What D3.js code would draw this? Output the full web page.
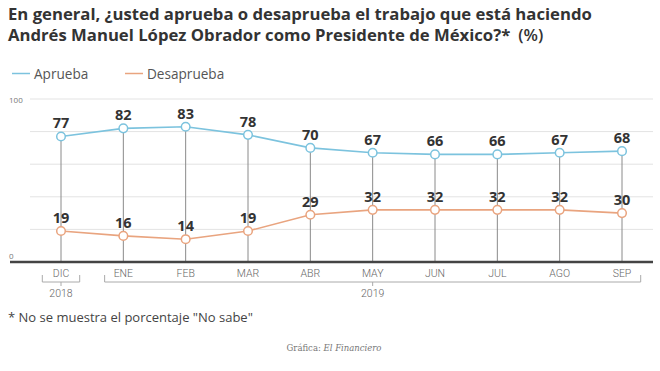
<!DOCTYPE html>
<html>
<head>
<meta charset="utf-8">
<script src="https://cdn.jsdelivr.net/npm/d3@7"></script>
<style>
  html, body { margin: 0; padding: 0; background: #fff; }
  svg { display: block; }
</style>
</head>
<body>
<div id="chart"></div>
<script>
/* Aprobación AMLO — D3 v7 */

var months     = ["DIC", "ENE", "FEB", "MAR", "ABR", "MAY", "JUN", "JUL", "AGO", "SEP"];
var aprueba    = [77, 82, 83, 78, 70, 67, 66, 66, 67, 68];
var desaprueba = [19, 16, 14, 19, 29, 32, 32, 32, 32, 30];
var yTicks     = [0, 100];
var gridTicks  = [20, 40, 60, 80, 100];
var years      = [
  { label: "2018", from: "DIC", to: "DIC", mid: "DIC" },
  { label: "2019", from: "ENE", to: "SEP", mid: "MAY" }
];

(function () {
  "use strict";

  var W = 660, H = 371;
  var cBlue = "#7cc3de", cOrange = "#e9a47f";
  var sans  = "'Open Sans', sans-serif";

  var svg = d3.select("#chart").append("svg").attr("width", W).attr("height", H);

  // ── Title ─────────────────────────────────────────────────────────────────
  var title = svg.append("text").attr("x", 8).attr("fill", "#333")
    .style("font-family", sans).style("font-size", "16.7px").style("font-weight", 700);
  title.append("tspan").attr("x", 8).attr("y", 20)
    .text("En general, ¿usted aprueba o desaprueba el trabajo que está haciendo");
  title.append("tspan").attr("x", 8).attr("y", 41)
    .text("Andrés Manuel López Obrador como Presidente de México?*");
  title.append("tspan").attr("dx", 8).style("font-weight", 600).text("(%)");

  // ── Legend ────────────────────────────────────────────────────────────────
  var legend = [{ name: "Aprueba", color: cBlue, x: 12 }, { name: "Desaprueba", color: cOrange, x: 125 }];
  legend.forEach(function (d) {
    svg.append("line").attr("x1", d.x).attr("x2", d.x + 18).attr("y1", 73.5).attr("y2", 73.5)
      .attr("stroke", d.color).attr("stroke-width", 1.5);
    svg.append("text").attr("x", d.x + 22).attr("y", 78.5).attr("fill", "#555")
      .style("font-family", sans).style("font-size", "13.6px").text(d.name);
  });

  // ── Scales ────────────────────────────────────────────────────────────────
  var x = d3.scalePoint().domain(months).range([61, 622]);
  var y = d3.scaleLinear().domain([0, 100]).range([262, 99]);

  // grid
  svg.append("g").selectAll("line").data(gridTicks).join("line")
    .attr("x1", 30).attr("x2", 653)
    .attr("y1", function (d) { return y(d); }).attr("y2", function (d) { return y(d); })
    .attr("stroke", "#e3e3e3").attr("stroke-width", 1);

  svg.append("g").selectAll("text").data(yTicks).join("text")
    .attr("x", 9).attr("y", function (d) { return y(d) + (d === 0 ? -3 : 4); })
    .attr("fill", "#777").style("font-family", sans).style("font-size", "8px")
    .text(function (d) { return d; });

  // drop lines
  svg.append("g").selectAll("line").data(months).join("line")
    .attr("x1", function (d) { return x(d); }).attr("x2", function (d) { return x(d); })
    .attr("y1", function (d, i) { return y(aprueba[i]); }).attr("y2", y(0))
    .attr("stroke", "#8a8a8a").attr("stroke-width", 1);

  // baseline
  svg.append("line").attr("x1", 10).attr("x2", 653).attr("y1", y(0)).attr("y2", y(0))
    .attr("stroke", "#444").attr("stroke-width", 2.5);

  // x axis labels
  svg.append("g").selectAll("text").data(months).join("text")
    .attr("x", function (d) { return x(d); }).attr("y", 277)
    .attr("text-anchor", "middle").attr("fill", "#666")
    .style("font-family", "Roboto, sans-serif").style("font-size", "10.5px").style("font-weight", 300)
    .text(function (d) { return d; });

  // year brackets
  var step = x.step();
  years.forEach(function (yr) {
    var x0 = x(yr.from) - step * 0.3, x1 = x(yr.to) + step * 0.3, xm = x(yr.mid);
    var g = svg.append("g").attr("stroke", "#aaa").attr("stroke-width", 1).attr("fill", "none");
    g.append("path").attr("d", "M" + x0 + ",275V282H" + x1 + "V275");
    g.append("line").attr("x1", xm).attr("x2", xm).attr("y1", 282).attr("y2", 286);
    svg.append("text").attr("x", xm).attr("y", 297).attr("text-anchor", "middle")
      .attr("fill", "#666").style("font-family", "Roboto, sans-serif")
      .style("font-size", "10.5px").style("font-weight", 300).text(yr.label);
  });

  // ── Series ────────────────────────────────────────────────────────────────
  var series = [{ values: aprueba, color: cBlue }, { values: desaprueba, color: cOrange }];
  var line = d3.line().x(function (d, i) { return x(months[i]); }).y(function (d) { return y(d); });

  series.forEach(function (s) {
    svg.append("path").datum(s.values).attr("fill", "none")
      .attr("stroke", s.color).attr("stroke-width", 1.6).attr("d", line);
    svg.append("g").selectAll("circle").data(s.values).join("circle")
      .attr("cx", function (d, i) { return x(months[i]); })
      .attr("cy", function (d) { return y(d); })
      .attr("r", 4.3).attr("fill", "#fff").attr("stroke", s.color).attr("stroke-width", 1.5);
    svg.append("g").selectAll("text").data(s.values).join("text")
      .attr("x", function (d, i) { return x(months[i]); })
      .attr("y", function (d) { return y(d) - 8; })
      .attr("text-anchor", "middle").attr("fill", "#333")
      .style("font-family", sans).style("font-size", "14.5px").style("font-weight", 700)
      .text(function (d) { return d; });
  });

  // ── Notes ─────────────────────────────────────────────────────────────────
  svg.append("text").attr("x", 8).attr("y", 322).attr("fill", "#444")
    .style("font-family", sans).style("font-size", "13px")
    .text("* No se muestra el porcentaje \"No sabe\"");

  var credit = svg.append("text").attr("x", 334).attr("y", 351).attr("text-anchor", "middle")
    .attr("fill", "#777").style("font-family", "'DejaVu Serif', serif").style("font-size", "8.5px");
  credit.append("tspan").text("Gráfica: ");
  credit.append("tspan").style("font-style", "italic").text("El Financiero");
})();
</script>
</body>
</html>
